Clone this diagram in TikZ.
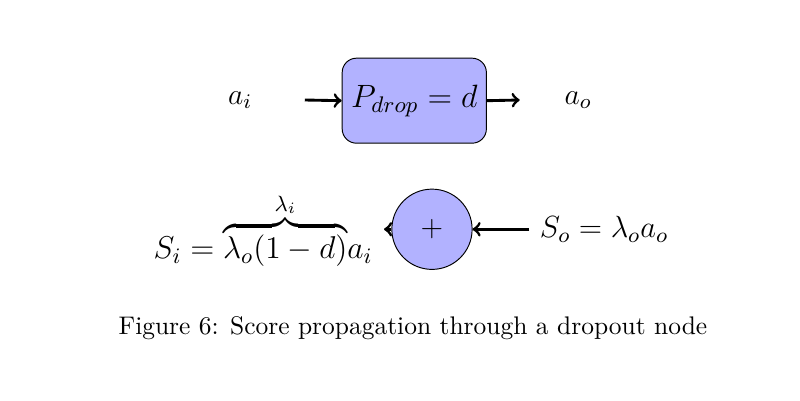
\RequirePackage{fix-cm}
\documentclass[tikz,border=0pt]{standalone}
\usetikzlibrary{positioning}
\usepackage{amsmath}

\tikzset{
  dropbox/.style={draw, rounded corners=6pt, fill=blue!30, minimum width=2.12cm, minimum height=1.25cm, inner sep=0pt, font=\fontsize{13.5}{16}\selectfont},
  sumnode/.style={draw, circle, fill=blue!30, minimum size=1.18cm, inner sep=0pt},
  flow/.style={->, very thick}
}

\begin{document}
\begin{tikzpicture}
    \useasboundingbox (0,0) rectangle (11.76,-5.88);
    {\fontsize{12.4}{15}\selectfont

    % forward pass
    \node (ai) at (3.53,-1.47) {$a_i$};
    \node[dropbox] (drop) at (6.09,-1.48) {$P_{drop} = d$};
    \node (ao) at (8.50,-1.47) {$a_o$};
    \coordinate (ain) at (4.48,-1.47);
    \coordinate (aout) at (7.64,-1.47);

    \draw[flow] (ain) -- (drop.west);
    \draw[flow] (drop.east) -- (aout);

    % backward pass
    \node[sumnode] (plus) at (6.35,-3.37) {$+$};
    \node[font=\fontsize{12.8}{15.5}\selectfont] (So) at (8.88,-3.37) {$S_o = \lambda_o a_o$};
    \node[anchor=base east, inner xsep=0.16cm, font=\fontsize{13.2}{16}\selectfont] (Si) at (5.645,-3.80)
        {$S_i = {\overbrace{\lambda_o(1-d)}^{\lambda_i}}a_i$};

    \draw[flow] (So.west) -- (plus.east);
    \draw[flow] (plus.west) -- (Si.east |- plus.west);
    }

    % caption
    \node[font=\fontsize{10.65}{13}\selectfont] (caption) at (6.07,-4.82) {Figure 6: Score propagation through a dropout node};
\end{tikzpicture}
\end{document}
